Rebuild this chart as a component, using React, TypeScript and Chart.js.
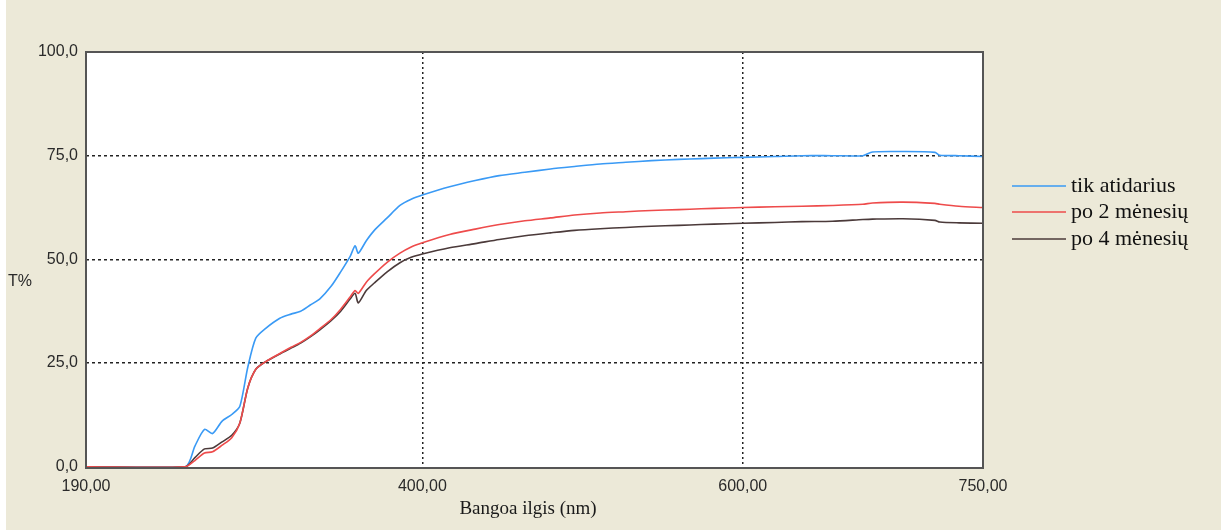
import React, { useEffect, useRef } from "react";
import { Chart, registerables } from "chart.js";

Chart.register(...registerables);

// ---- data ----
const wavelengths = [
  190, 252, 258, 264, 269, 275, 281, 286, 291, 296, 302, 311, 318, 324, 330, 336,
  343, 349, 355, 358, 360, 365, 370, 378, 386, 393, 400, 417, 433, 448, 464, 480,
  495, 511, 527, 543, 560, 574, 590, 600, 620, 637, 656, 675, 681, 700, 720, 723,
  735, 750,
];

const tikAtidarius = [
  0, 0, 5.0, 9.0, 8.0, 11.0, 12.6, 14.5, 24, 31, 33.3, 35.8, 36.8, 37.5, 39, 40.5,
  43.5, 47, 50.8, 53.3, 51.5, 54.5, 57, 60, 63, 64.5, 65.5, 67.5, 69, 70.2, 71, 71.8,
  72.4, 73, 73.4, 73.8, 74.1, 74.3, 74.5, 74.6, 74.8, 75.0, 75.0, 75.0, 75.9, 76.0, 75.8, 75.1,
  75.0, 74.8,
];

const po2Menesiu = [
  0, 0, 1.5, 3.3, 3.6, 5.2, 7.0, 10.5, 19, 23.5, 25.3, 27.3, 28.8, 30, 31.5, 33.3,
  35.5, 38, 41, 42.5, 41.8, 44.5, 46.5, 49.3, 51.5, 53, 54, 56, 57.3, 58.4, 59.3, 60,
  60.7, 61.2, 61.5, 61.8, 62, 62.2, 62.4, 62.5, 62.7, 62.8, 63, 63.3, 63.6, 63.8, 63.5, 63.3,
  62.8, 62.5,
];

const po4Menesiu = [
  0, 0, 2.2, 4.3, 4.5, 6.0, 7.6, 10.5, 19, 23.5, 25.3, 27.2, 28.6, 29.8, 31.3, 33,
  35.2, 37.5, 40.5, 41.8, 39.5, 42.5, 44.3, 47, 49.2, 50.5, 51.3, 52.8, 53.8, 54.8, 55.7, 56.4,
  57, 57.4, 57.7, 58, 58.2, 58.4, 58.6, 58.7, 58.9, 59.1, 59.2, 59.6, 59.7, 59.8, 59.4, 59.0,
  58.8, 58.7,
];

const seriesLabels = ["tik atidarius", "po 2 mėnesių", "po 4 mėnesių"];
const seriesColors = ["#3a9af5", "#ee4b4b", "#4b3a3a"];
const seriesOrder = [2, 0, 1];

const xTicks = [190, 400, 600, 750];
const xTickLabels = ["190,00", "400,00", "600,00", "750,00"];
const yTicks = [0, 25, 50, 75, 100];
const yTickLabels = ["0,0", "25,0", "50,0", "75,0", "100,0"];

const xTitle = "Bangoa ilgis (nm)";
const yTitle = "T%";

const W = 1221;
const H = 530;

const decorPlugin = {
  id: "decor",
  beforeDraw(chart: any) {
    const { ctx, chartArea } = chart;
    ctx.save();
    ctx.fillStyle = "#ffffff";
    ctx.fillRect(0, 0, W, H);
    ctx.fillStyle = "#ece9d8";
    ctx.fillRect(6, 0, W - 6, H);
    ctx.fillStyle = "#ffffff";
    ctx.fillRect(chartArea.left, chartArea.top, chartArea.right - chartArea.left, chartArea.bottom - chartArea.top);
    ctx.restore();
  },
  afterDraw(chart: any) {
    const { ctx, chartArea } = chart;
    ctx.save();
    // frame
    ctx.strokeStyle = "#555555";
    ctx.lineWidth = 2;
    ctx.strokeRect(chartArea.left, chartArea.top, chartArea.right - chartArea.left, chartArea.bottom - chartArea.top);
    // y title (horizontal)
    ctx.fillStyle = "#2a2a2a";
    ctx.font = "16px 'Liberation Sans'";
    ctx.textAlign = "left";
    ctx.textBaseline = "middle";
    ctx.fillText(yTitle, 8, 282);
    // x title
    ctx.fillStyle = "#1a1a1a";
    ctx.font = "19px 'Liberation Serif'";
    ctx.textAlign = "center";
    ctx.fillText(xTitle, 528, 509);
    // legend
    const rows = [186, 212, 239];
    ctx.font = "22px 'Liberation Serif'";
    ctx.textAlign = "left";
    ctx.textBaseline = "middle";
    chart.data.datasets.forEach((ds: any, i: number) => {
      ctx.strokeStyle = ds.borderColor;
      ctx.lineWidth = 1.5;
      ctx.beginPath();
      ctx.moveTo(1012, rows[i]);
      ctx.lineTo(1066, rows[i]);
      ctx.stroke();
      ctx.fillStyle = "#111111";
      ctx.fillText(ds.label, 1071, rows[i]);
    });
    ctx.restore();
  },
};

export default function App() {
  const canvasRef = useRef<HTMLCanvasElement | null>(null);

  useEffect(() => {
    document.body.style.margin = "0";
    const canvas = canvasRef.current;
    if (!canvas) return;
    const seriesValues = [tikAtidarius, po2Menesiu, po4Menesiu];
    const chart = new Chart(canvas, {
      type: "line",
      data: {
        datasets: seriesValues.map((vals, i) => ({
          label: seriesLabels[i],
          data: wavelengths.map((w, j) => ({ x: w, y: vals[j] })),
          borderColor: seriesColors[i],
          backgroundColor: seriesColors[i],
          borderWidth: 1.6,
          pointRadius: 0,
          tension: 0.25,
          fill: false,
          order: seriesOrder[i],
        })),
      },
      options: {
        animation: false,
        responsive: false,
        devicePixelRatio: 1,
        layout: { padding: { left: 0, top: 52, right: 238, bottom: 0 } },
        plugins: {
          legend: { display: false },
          tooltip: { enabled: false },
        },
        scales: {
          x: {
            type: "linear",
            min: 190,
            max: 750,
            afterBuildTicks: (s: any) => {
              s.ticks = xTicks.map((v) => ({ value: v }));
            },
            afterFit: (s: any) => {
              s.height = 62;
            },
            ticks: {
              autoSkip: false,
              maxRotation: 0,
              padding: 9,
              color: "#2a2a2a",
              font: { family: "'Liberation Sans'", size: 16 },
              callback: (v: any) => {
                const i = xTicks.indexOf(Number(v));
                return i >= 0 ? xTickLabels[i] : "";
              },
            },
            grid: {
              drawTicks: false,
              lineWidth: 1.5,
              color: (c: any) =>
                c.tick && (c.tick.value === 400 || c.tick.value === 600) ? "#222222" : "rgba(0,0,0,0)",
            },
            border: { display: false, dash: [2, 3] },
          },
          y: {
            type: "linear",
            min: -0.3,
            max: 100,
            afterBuildTicks: (s: any) => {
              s.ticks = yTicks.map((v) => ({ value: v }));
            },
            afterFit: (s: any) => {
              s.width = 86;
            },
            ticks: {
              padding: 8,
              color: "#2a2a2a",
              font: { family: "'Liberation Sans'", size: 16 },
              callback: (v: any) => {
                const i = yTicks.indexOf(Number(v));
                return i >= 0 ? yTickLabels[i] : "";
              },
            },
            grid: {
              drawTicks: false,
              lineWidth: 1.5,
              color: (c: any) =>
                c.tick && [25, 50, 75].includes(c.tick.value) ? "#222222" : "rgba(0,0,0,0)",
            },
            border: { display: false, dash: [3, 3] },
          },
        },
      },
      plugins: [decorPlugin],
    } as any);
    return () => chart.destroy();
  }, []);

  return (
    <div style={{ width: W, height: H }}>
      <canvas ref={canvasRef} width={W} height={H} style={{ display: "block", width: W, height: H }} />
    </div>
  );
}
